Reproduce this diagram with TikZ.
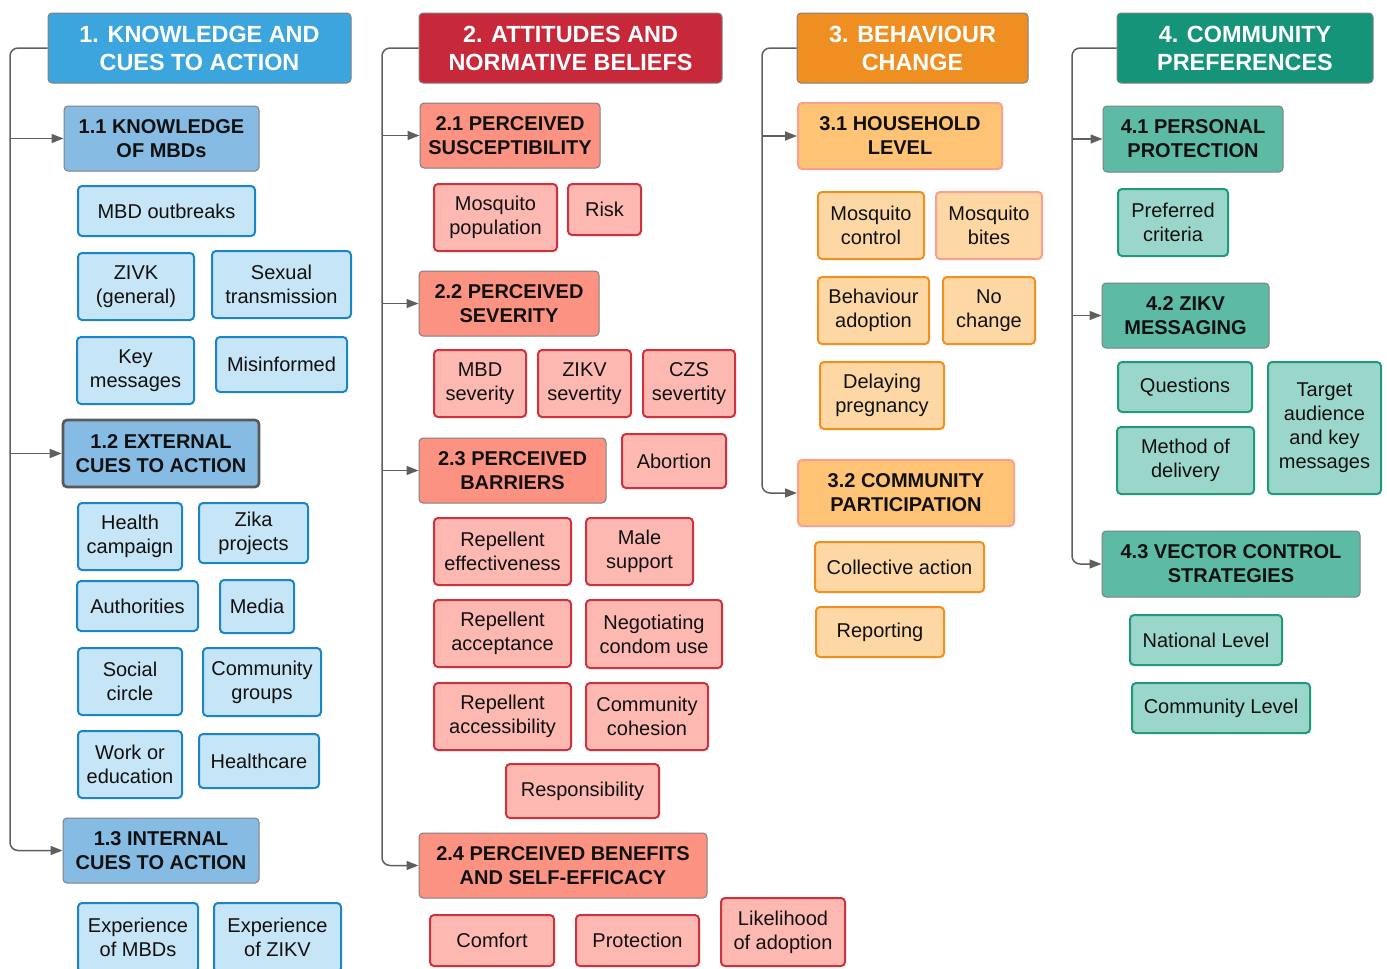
\documentclass[tikz,border=0pt]{standalone}
\usepackage{fontspec}
\setmainfont{Liberation Sans}
\usetikzlibrary{arrows.meta}
\definecolor{bHead}{HTML}{3DA5DD}\definecolor{bSub}{HTML}{86BBE4}\definecolor{bFill}{HTML}{C6E5F6}\definecolor{bLine}{HTML}{1A86C8}
\definecolor{rHead}{HTML}{C8293A}\definecolor{rSub}{HTML}{FC9282}\definecolor{rFill}{HTML}{FDB9B1}\definecolor{rLine}{HTML}{D0313F}
\definecolor{oHead}{HTML}{EF8F22}\definecolor{oSub}{HTML}{FEC375}\definecolor{oSubLine}{HTML}{F9A090}\definecolor{oFill}{HTML}{FDD8A4}\definecolor{oLine}{HTML}{F1901F}
\definecolor{tHead}{HTML}{169479}\definecolor{tSub}{HTML}{5CBAA5}\definecolor{tFill}{HTML}{9AD6CA}\definecolor{tLine}{HTML}{1E9A7F}
\definecolor{edge}{HTML}{808080}\definecolor{conncol}{HTML}{5F5F5F}\definecolor{txt}{HTML}{111111}
\tikzset{
  base/.style={rectangle, rounded corners=2pt, inner sep=0pt, align=center},
  head/.style={base, draw=edge, line width=0.5pt, text=white, font=\fontsize{11.7}{14}\selectfont\bfseries},
  sub/.style={base, draw=edge, line width=0.5pt, text=txt, font=\fontsize{10}{12}\selectfont\bfseries},
  leaf/.style={base, line width=1pt, text=txt, font=\fontsize{10}{12}\selectfont},
  bh/.style={head, fill=bHead}, bs/.style={sub, fill=bSub}, bl/.style={leaf, fill=bFill, draw=bLine},
  rh/.style={head, fill=rHead}, rs/.style={sub, fill=rSub}, rl/.style={leaf, fill=rFill, draw=rLine},
  oh/.style={head, fill=oHead}, os/.style={sub, fill=oSub, draw=oSubLine, line width=1pt}, ol/.style={leaf, fill=oFill, draw=oLine},
  th/.style={head, fill=tHead}, ts/.style={sub, fill=tSub}, tl/.style={leaf, fill=tFill, draw=tLine},
  conn/.style={draw=conncol, line width=0.75pt},
  arr/.style={conn, -{Triangle[length=6pt,width=4.5pt]}},
}
\newcommand\bx[7]{\node[#6, minimum width={(#4-#2)*0.5pt}, minimum height={(#5-#3)*0.5pt}] (#1) at ({(#2+#4)/2},{(#3+#5)/2}) {#7};}
\begin{document}
\begin{tikzpicture}[x=0.5pt,y=-0.5pt]
\useasboundingbox (0,0) rectangle (1387,969);
% ---------- Column 1
\bx{h1}{48}{13}{351}{83}{bh}{1. KNOWLEDGE AND\\CUES TO ACTION}
\bx{s11}{64}{106}{259}{171}{bs}{1.1 KNOWLEDGE\\OF MBDs}
\bx{l111}{78}{186}{255}{236}{bl}{MBD outbreaks}
\bx{l112}{78}{253}{194}{320}{bl}{ZIVK\\(general)}
\bx{l113}{212}{251}{351}{318}{bl}{Sexual\\transmission}
\bx{l114}{77}{337}{194}{404}{bl}{Key\\messages}
\bx{l115}{216}{337}{347}{392}{bl}{Misinformed}
\bx{s12}{63}{420}{259}{487}{bs, draw=black!65, line width=1.3pt}{1.2 EXTERNAL\\CUES TO ACTION}
\bx{l121}{78}{503}{182}{570}{bl}{Health\\campaign}
\bx{l122}{199}{503}{308}{563}{bl}{Zika\\projects}
\bx{l123}{77}{581}{198}{631}{bl}{Authorities}
\bx{l124}{220}{580}{294}{633}{bl}{Media}
\bx{l125}{78}{648}{182}{715}{bl}{Social\\circle}
\bx{l126}{203}{648}{321}{716}{bl}{Community\\groups}
\bx{l127}{78}{731}{182}{798}{bl}{Work or\\education}
\bx{l128}{199}{734}{319}{788}{bl}{Healthcare}
\bx{s13}{63}{818}{259}{883}{bs}{1.3 INTERNAL\\CUES TO ACTION}
\bx{l131}{78}{903}{198}{972}{bl}{Experience\\of MBDs}
\bx{l132}{214}{903}{341}{972}{bl}{Experience\\of ZIKV}
\coordinate (v1) at (10,48);
\draw[arr, rounded corners=4pt] (h1.west) -- (v1) -- (v1 |- s13.west) -- (s13.west);
\draw[arr] (v1 |- s11.west) -- (s11.west);
\draw[arr] (v1 |- s12.west) -- (s12.west);
% ---------- Column 2
\bx{h2}{419}{13}{722}{83}{rh}{2. ATTITUDES AND\\NORMATIVE BELIEFS}
\bx{s21}{420}{103}{600}{168}{rs}{2.1 PERCEIVED\\SUSCEPTIBILITY}
\bx{l211}{434}{184}{557}{251}{rl}{Mosquito\\population}
\bx{l212}{568}{184}{641}{235}{rl}{Risk}
\bx{s22}{419}{271}{599}{336}{rs}{2.2 PERCEIVED\\SEVERITY}
\bx{l221}{434}{350}{526}{417}{rl}{MBD\\severity}
\bx{l222}{538}{350}{631}{417}{rl}{ZIKV\\severtity}
\bx{l223}{643}{350}{735}{417}{rl}{CZS\\severtity}
\bx{s23}{419}{438}{606}{503}{rs}{2.3 PERCEIVED\\BARRIERS}
\bx{l231}{622}{434}{726}{488}{rl}{Abortion}
\bx{l232}{434}{518}{571}{585}{rl}{Repellent\\effectiveness}
\bx{l233}{586}{518}{693}{585}{rl}{Male\\support}
\bx{l234}{434}{600}{571}{667}{rl}{Repellent\\acceptance}
\bx{l235}{586}{600}{722}{668}{rl}{Negotiating\\condom use}
\bx{l236}{434}{683}{571}{750}{rl}{Repellent\\accessibility}
\bx{l237}{586}{683}{708}{750}{rl}{Community\\cohesion}
\bx{l238}{506}{764}{659}{818}{rl}{Responsibility}
\bx{s24}{419}{833}{707}{898}{rs}{2.4 PERCEIVED BENEFITS\\AND SELF-EFFICACY}
\bx{l241}{430}{915}{554}{966}{rl}{Comfort}
\bx{l242}{576}{915}{699}{966}{rl}{Protection}
\bx{l243}{721}{898}{845}{966}{rl}{Likelihood\\of adoption}
\coordinate (v2) at (382,48);
\draw[arr, rounded corners=4pt] (h2.west) -- (v2) -- (v2 |- s24.west) -- (s24.west);
\draw[arr] (v2 |- s21.west) -- (s21.west);
\draw[arr] (v2 |- s22.west) -- (s22.west);
\draw[arr] (v2 |- s23.west) -- (s23.west);
% ---------- Column 3
\bx{h3}{797}{13}{1028}{83}{oh}{3. BEHAVIOUR\\CHANGE}
\bx{s31}{798}{103}{1002}{169}{os}{3.1 HOUSEHOLD\\LEVEL}
\bx{l311}{818}{192}{924}{259}{ol}{Mosquito\\control}
\bx{l312}{936}{192}{1042}{259}{ol, draw=oSubLine}{Mosquito\\bites}
\bx{l313}{818}{277}{929}{344}{ol}{Behaviour\\adoption}
\bx{l314}{943}{277}{1035}{344}{ol}{No\\change}
\bx{l315}{820}{362}{944}{429}{ol}{Delaying\\pregnancy}
\bx{s32}{798}{460}{1014}{526}{os}{3.2 COMMUNITY\\PARTICIPATION}
\bx{l321}{815}{542}{984}{592}{ol}{Collective action}
\bx{l322}{816}{607}{944}{657}{ol}{Reporting}
\coordinate (v3) at (762,48);
\draw[arr, rounded corners=4pt] (h3.west) -- (v3) -- (v3 |- s32.west) -- (s32.west);
\draw[arr] (v3 |- s31.west) -- (s31.west);
% ---------- Column 4
\bx{h4}{1117}{13}{1373}{83}{th}{4. COMMUNITY\\PREFERENCES}
\bx{s41}{1103}{106}{1283}{172}{ts}{4.1 PERSONAL\\PROTECTION}
\bx{l411}{1118}{189}{1228}{256}{tl}{Preferred\\criteria}
\bx{s42}{1102}{283}{1269}{348}{ts}{4.2 ZIKV\\MESSAGING}
\bx{l421}{1118}{362}{1252}{412}{tl}{Questions}
\bx{l422}{1117}{427}{1254}{494}{tl}{Method of\\delivery}
\bx{l423}{1268}{362}{1381}{494}{tl}{Target\\audience\\and key\\messages}
\bx{s43}{1102}{531}{1360}{597}{ts}{4.3 VECTOR CONTROL\\STRATEGIES}
\bx{l431}{1130}{615}{1282}{665}{tl}{National Level}
\bx{l432}{1132}{683}{1310}{733}{tl}{Community Level}
\coordinate (v4) at (1072,48);
\draw[arr, rounded corners=4pt] (h4.west) -- (v4) -- (v4 |- s43.west) -- (s43.west);
\draw[arr] (v4 |- s41.west) -- (s41.west);
\draw[arr] (v4 |- s42.west) -- (s42.west);
\end{tikzpicture}
\end{document}
